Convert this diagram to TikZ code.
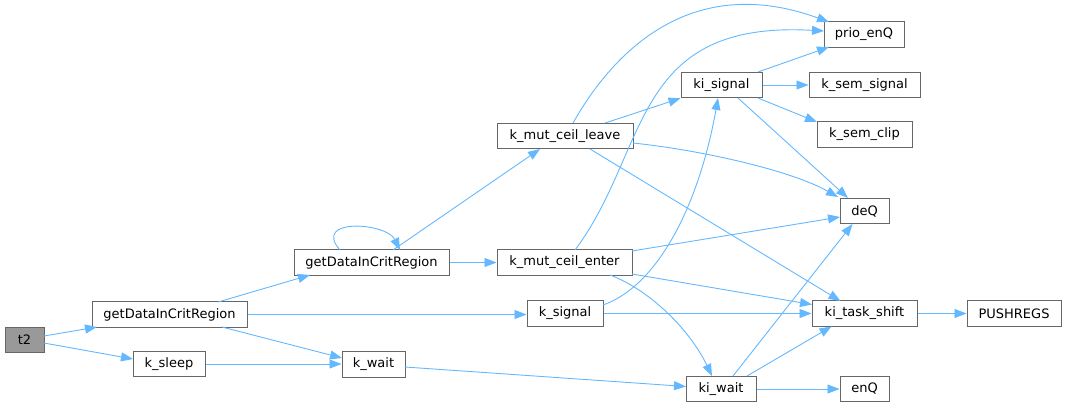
\documentclass[tikz,border=0pt]{standalone}
\usepackage{fontspec}
\setmainfont{DejaVu Sans}
\usetikzlibrary{arrows.meta,calc}
\definecolor{edgec}{HTML}{63B8FF}
\definecolor{bordc}{HTML}{666666}
\definecolor{rootc}{HTML}{999999}
\begin{document}
\begin{tikzpicture}[x=1pt,y=-1pt,
  fn/.style={draw=bordc,line width=1pt,minimum height=25.5pt,inner sep=0pt,fill=white,
    font=\fontsize{13}{15}\selectfont},
  rootfn/.style={fn,fill=rootc},
  call/.style={draw=edgec,line width=0.9pt,-{Triangle[length=12pt,width=9pt]}}]
\useasboundingbox (0,0) rectangle (1067,408);
% nodes
\node[rootfn,minimum width=39pt] (t2) at (24.5,340) {t2};
\node[fn,minimum width=155pt] (gdl) at (169.5,314.5) {getDataInCritRegion};
\node[fn,minimum width=72pt] (ks) at (169,364) {k\_sleep};
\node[fn,minimum width=155pt] (gdu) at (371.5,262.5) {getDataInCritRegion};
\node[fn,minimum width=135pt] (kmce) at (564.5,262.5) {k\_mut\_ceil\_enter};
\node[fn,minimum width=76pt] (ksig) at (565,313.5) {k\_signal};
\node[fn,minimum width=63pt] (kw) at (373.5,364.5) {k\_wait};
\node[fn,minimum width=80pt] (prio) at (864,34.5) {prio\_enQ};
\node[fn,minimum width=81pt] (kis) at (721.5,85) {ki\_signal};
\node[fn,minimum width=111pt] (kss) at (864.5,85) {k\_sem\_signal};
\node[fn,minimum width=95pt] (ksc) at (864.5,134.5) {k\_sem\_clip};
\node[fn,minimum width=136pt] (kmcl) at (565,136) {k\_mut\_ceil\_leave};
\node[fn,minimum width=49pt] (deq) at (864.5,211) {deQ};
\node[fn,minimum width=105pt] (kts) at (864.5,313.5) {ki\_task\_shift};
\node[fn,minimum width=94pt] (push) at (1014,313.5) {PUSHREGS};
\node[fn,minimum width=70pt] (kiw) at (721,389) {ki\_wait};
\node[fn,minimum width=49pt] (enq) at (864.5,389) {enQ};
% edges
\draw[call] ($(t2)+(19.5,-4)$) -- ($(gdl)+(-72.5,12.5)$);
\draw[call] ($(t2)+(19.5,3)$) -- ($(ks)+(-36,-5)$);
\draw[call] ($(gdl)+(48.5,-12.5)$) -- ($(gdu)+(-61.5,12.5)$);
\draw[call] (gdl.east) -- (gdl.east -| ksig.west);
\draw[call] ($(gdl)+(52.5,12.5)$) -- ($(kw)+(-31.5,-6.5)$);
\draw[call] (ks.east) -- (ks.east -| kw.west);
\draw[call] ($(gdu)+(-31.5,-12.5)$) .. controls ($(gdu)+(-60,-45)$) and ($(gdu)+(15,-40)$) .. ($(gdu)+(28.5,-12.5)$);
\draw[call] ($(gdu)+(21.5,-12.5)$) -- ($(kmcl)+(-25,13)$);
\draw[call] (gdu.east) -- (kmce.west);
\draw[call] ($(kmcl)+(8,-13)$) .. controls (620,40) and (700,-25) .. ($(prio)+(-35,-12.5)$);
\draw[call] ($(kmcl)+(40,-13)$) -- (kis.south west);
\draw[call] ($(kmcl)+(68,7)$) .. controls (700,150) and (790,170) .. ($(deq)+(-26.5,-14)$);
\draw[call] ($(kmcl)+(25,13)$) -- ($(kts)+(-24,-12.5)$);
\draw[call] ($(kmce)+(10.5,-12.5)$) .. controls (650,150) and (630,20) .. ($(prio)+(-40,-3.5)$);
\draw[call] ($(kmce)+(67.5,-11.5)$) -- ($(deq)+(-24.5,6)$);
\draw[call] ($(kmce)+(67.5,11.5)$) -- ($(kts)+(-52.5,-9)$);
\draw[call] ($(kmce)+(45.5,12.5)$) .. controls (650,290) and (690,330) .. ($(kiw)+(-9,-13)$);
\draw[call] ($(ksig)+(38,-8.5)$) .. controls (660,285) and (700,200) .. ($(kis)+(-3.5,13)$);
\draw[call] (ksig.east) -- (kts.west);
\draw[call] ($(kw)+(31.5,2.5)$) -- ($(kiw)+(-35,-2.5)$);
\draw[call] ($(kis)+(36.5,-13)$) -- ($(prio)+(-35,12.5)$);
\draw[call] (kis.east) -- (kss.west);
\draw[call] ($(kis)+(36.5,13)$) -- ($(ksc)+(-47.5,-12.5)$);
\draw[call] ($(kis)+(16.5,13)$) -- ($(deq)+(-16.5,-13)$);
\draw[call] ($(kiw)+(12,-13)$) -- ($(deq)+(-12,13)$);
\draw[call] ($(kiw)+(26,-13)$) -- ($(kts)+(-33,13)$);
\draw[call] (kiw.east) -- (enq.west);
\draw[call] (kts.east) -- (push.west);
\end{tikzpicture}
\end{document}
